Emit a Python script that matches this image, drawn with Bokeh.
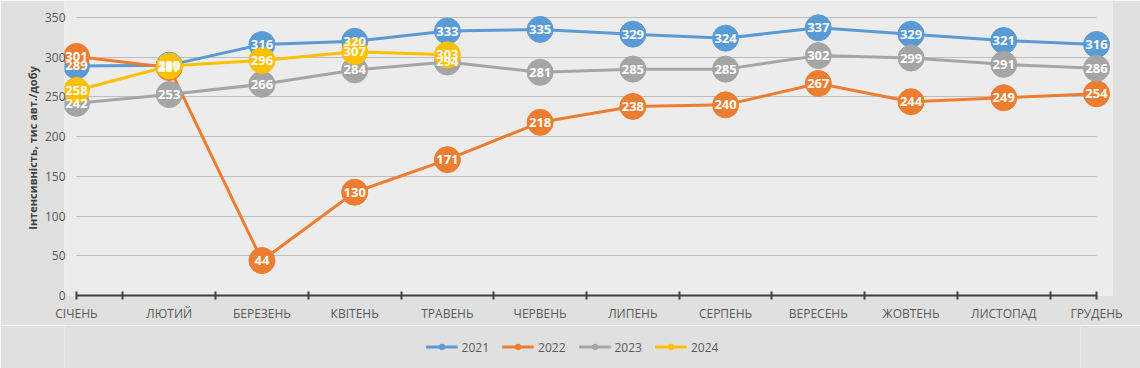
from bokeh.plotting import figure
from bokeh.layouts import column
from bokeh.models import FixedTicker, Legend, LegendItem, ColumnDataSource, Range1d
from bokeh.embed import file_html
from bokeh.resources import INLINE
from bokeh.core.properties import value

months = ["СІЧЕНЬ", "ЛЮТИЙ", "БЕРЕЗЕНЬ", "КВІТЕНЬ", "ТРАВЕНЬ", "ЧЕРВЕНЬ",
          "ЛИПЕНЬ", "СЕРПЕНЬ", "ВЕРЕСЕНЬ", "ЖОВТЕНЬ", "ЛИСТОПАД", "ГРУДЕНЬ"]
years = ["2021", "2022", "2023", "2024"]
y2021 = [289, 290, 316, 320, 333, 335, 329, 324, 337, 329, 321, 316]
y2022 = [301, 287, 44, 130, 171, 218, 238, 240, 267, 244, 249, 254]
y2023 = [242, 253, 266, 284, 294, 281, 285, 285, 302, 299, 291, 286]
y2024 = [258, 289, 296, 307, 303]
colors = ["#5b9bd5", "#ed7d31", "#a5a5a5", "#ffc000"]
y_ticks = [0, 50, 100, 150, 200, 250, 300, 350]

FONT = "Open Sans"
BORDER = "#e0e0e0"
n = len(months)
last = n - 1

p = figure(frame_width=1048, frame_height=295,
           x_range=Range1d(-0.1294, last + 0.1726), y_range=Range1d(0, 371.4),
           output_backend="svg", toolbar_location=None,
           min_border_left=64, min_border_right=28, min_border_top=0,
           min_border_bottom=30)
p.outline_line_color = None
p.background_fill_color = "#ececec"
p.border_fill_color = BORDER

# x axis
xticker = FixedTicker(ticks=list(range(n)),
                      minor_ticks=[0] + [i + 0.5 for i in range(last)] + [last])
p.xaxis.ticker = xticker
p.xaxis.bounds = (0, last)
p.xaxis.major_label_overrides = {i: m for i, m in enumerate(months)}
p.xaxis.major_tick_line_color = None
p.xaxis.minor_tick_in = 4
p.xaxis.minor_tick_out = 4
p.xaxis.minor_tick_line_color = "#404040"
p.xaxis.minor_tick_line_width = 2
p.xaxis.axis_line_color = "#404040"
p.xaxis.axis_line_width = 2
p.xaxis.major_label_text_font = FONT
p.xaxis.major_label_text_font_size = "12px"
p.xaxis.major_label_text_color = "#595959"
p.xaxis.major_label_standoff = 3
p.xgrid.grid_line_color = None

# y axis
p.yaxis.ticker = FixedTicker(ticks=y_ticks)
p.yaxis.axis_line_color = None
p.yaxis.major_tick_line_color = None
p.yaxis.minor_tick_line_color = None
p.yaxis.major_label_text_font = FONT
p.yaxis.major_label_text_font_size = "12px"
p.yaxis.major_label_text_color = "#595959"
p.yaxis.major_label_standoff = -7
p.yaxis.axis_label = "Інтенсивність, тис авт./добу"
p.yaxis.axis_label_text_font = FONT
p.yaxis.axis_label_text_font_size = "11px"
p.yaxis.axis_label_text_font_style = "bold"
p.yaxis.axis_label_text_color = "#404040"
p.yaxis.axis_label_standoff = 2
p.ygrid.grid_line_color = "#bdbdbd"
p.ygrid.grid_line_width = 1
p.ygrid.cross_bounds = (0, last)

series = [y2021, y2022, y2023, y2024]
sources = []
for vals, col in zip(series, colors):
    src = ColumnDataSource(dict(x=list(range(len(vals))), y=vals,
                                t=[str(v) for v in vals]))
    sources.append(src)
    p.line("x", "y", source=src, line_color=col, line_width=3)
    p.scatter("x", "y", source=src, size=26, fill_color=col, line_color=col)
for src in sources:
    p.text("x", "y", text="t", source=src, text_align="center", text_baseline="middle",
           text_color="white", text_font=value(FONT), text_font_style="bold",
           text_font_size="13px")

# legend in its own strip below the chart (its view shows no data, only the legend)
lf = figure(width=1140, height=43, output_backend="svg", toolbar_location=None,
            x_range=Range1d(0, last), y_range=Range1d(-2, -1),
            x_axis_location=None, y_axis_location=None,
            min_border_left=0, min_border_right=60, min_border_top=0, min_border_bottom=0)
lf.outline_line_color = None
lf.background_fill_color = BORDER
lf.border_fill_color = BORDER
lf.grid.grid_line_color = None
items = []
for name, src, col in zip(years, sources, colors):
    lg_ln = lf.line("x", "y", source=src, line_color=col, line_width=3)
    lg_sc = lf.scatter("x", "y", source=src, size=7, fill_color=col, line_color=col)
    items.append(LegendItem(label=name, renderers=[lg_ln, lg_sc]))
legend = Legend(items=items, orientation="horizontal", location="center",
                background_fill_alpha=0, border_line_color=None,
                label_text_font=FONT, label_text_font_size="12px",
                label_text_color="#595959", glyph_width=32, glyph_height=14,
                spacing=13, padding=2, margin=0, label_standoff=4)
lf.add_layout(legend, "center")

layout = column(p, lf, spacing=0)
open("out.html", "w").write(file_html(layout, INLINE))
